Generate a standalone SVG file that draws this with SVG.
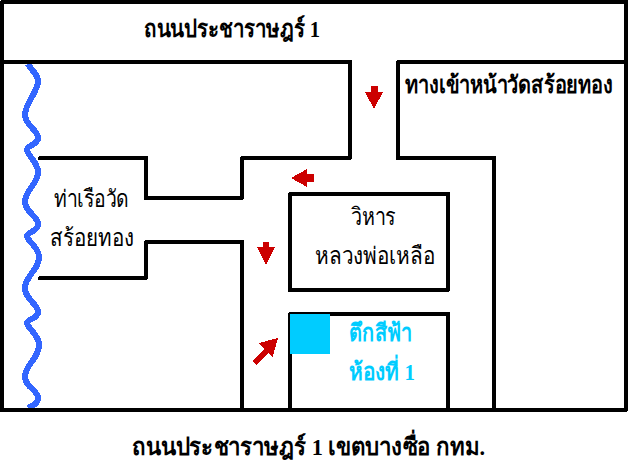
<svg xmlns="http://www.w3.org/2000/svg" width="630" height="470" viewBox="0 0 630 470">
<style>
.w{fill:none;stroke:#000;stroke-width:4;stroke-linejoin:round;stroke-linecap:round;shape-rendering:crispEdges}
.a{fill:#c00;stroke:none;shape-rendering:crispEdges}
.t{font-family:"Liberation Serif","Noto Sans",serif;font-size:24px;fill:#000}
.b{font-weight:bold}
.c{fill:#0cf;font-weight:bold}
</style>
<rect width="630" height="470" fill="#fff"/>
<g id="connectors">
<path id="river" d="M28 64C31 70 38 74 38 81C38 92 25 103 25 115C25 125 38 130 38 138C38 145 27 145 27 150C27 155 38 162 38 172C38 184 25 190 25 202C25 212 38 216 38 224C38 232 27 232 27 236C27 241 39 247 39 257C39 270 25 276 25 288C25 299 38 304 38 312C38 319 27 319 27 323C27 328 39 334 39 345C39 358 25 365 25 377C25 387 38 390 38 398C38 404 32 406 28 408" fill="none" stroke="#36f" stroke-width="6" shape-rendering="crispEdges"/>
<path class="w" d="M2 2H626V410H2ZM2 62H350V158H242V198H146V158H40M398 62H626M398 62V158H494V410M40 278H146V242H242V410"/>
<path class="w" d="M290 194H448V290H290ZM290 314H448V410H290Z"/>
</g>
<g id="building-blue"><rect x="290" y="314" width="40" height="40" fill="#0cf" shape-rendering="crispEdges"/></g>
<g id="arrows">
<path class="a" d="M371 86H378V92H383L374 109L365 92H371Z"/>
<path class="a" d="M291 178L307 169V174H314V182H307V187Z"/>
<path class="a" d="M263 242H269V247H275L266 265L257 247H263Z"/>
<path class="a" d="M278 338L272.5 357L268 353L256 365L252 361L264 349L259 343Z"/>
</g>
<g id="label-top"><text class="t b" x="144" y="37" textLength="176" lengthAdjust="spacingAndGlyphs">ถนนประชาราษฎร์ 1</text></g>
<g id="label-entry"><text class="t b" x="405" y="93" textLength="208" lengthAdjust="spacingAndGlyphs">ทางเข้าหน้าวัดสร้อยทอง</text></g>
<g id="label-pier"><text class="t" x="54" y="207" textLength="75" lengthAdjust="spacingAndGlyphs">ท่าเรือวัด</text><text class="t" x="50" y="246" textLength="84" lengthAdjust="spacingAndGlyphs">สร้อยทอง</text></g>
<g id="label-vihara"><text class="t" x="351" y="225" textLength="45" lengthAdjust="spacingAndGlyphs">วิหาร</text><text class="t" x="315" y="264" textLength="120" lengthAdjust="spacingAndGlyphs">หลวงพ่อเหลือ</text></g>
<g id="label-blue"><text class="t c" x="349" y="341" textLength="63" lengthAdjust="spacingAndGlyphs">ตึกสีฟ้า</text><text class="t c" x="349" y="380" textLength="66" lengthAdjust="spacingAndGlyphs">ห้องที่ 1</text></g>
<g id="label-bottom"><text class="t b" x="132" y="455" textLength="353" lengthAdjust="spacingAndGlyphs">ถนนประชาราษฎร์ 1 เขตบางซื่อ กทม.</text></g>
</svg>
